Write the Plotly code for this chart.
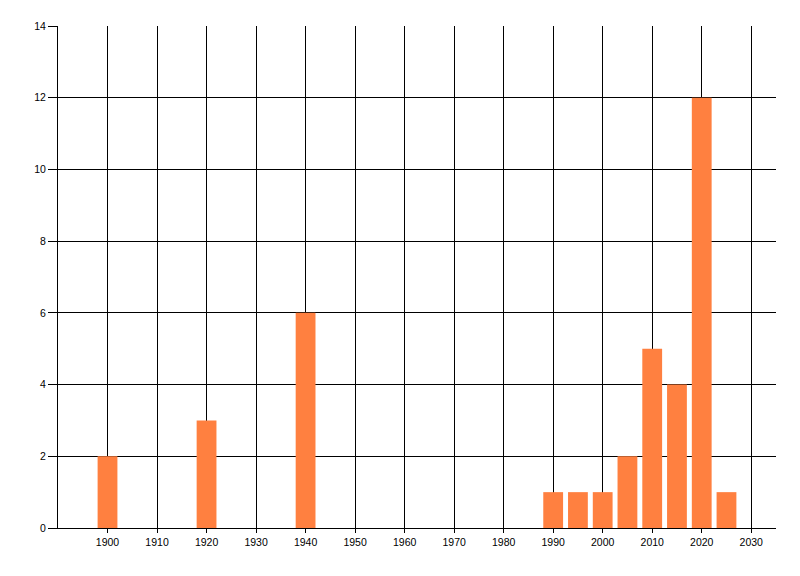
import plotly.graph_objects as go

# bar positions (year) and counts
years = [1900, 1920, 1940, 1990, 1995, 2000, 2005, 2010, 2015, 2020, 2025]
counts = [2, 3, 6, 1, 1, 1, 2, 5, 4, 12, 1]

x_ticks = list(range(1900, 2031, 10))
y_ticks = list(range(0, 15, 2))

fig = go.Figure(go.Bar(
    x=years, y=counts,
    width=4,
    marker=dict(color="rgb(255,128,64)", line=dict(width=0)),
))

axis_common = dict(
    showgrid=True, gridcolor="black", gridwidth=1,
    showline=True, linecolor="black", linewidth=1,
    ticks="outside", tickcolor="black",
    zeroline=False,
    tickfont=dict(family="Liberation Sans", size=10.5, color="black"),
)

# page body adds an 8px offset, so margins are shifted to compensate
fig.update_layout(
    width=800, height=576,
    margin=dict(l=50, r=32, t=18, b=56),
    paper_bgcolor="white", plot_bgcolor="white",
    showlegend=False,
    xaxis=dict(range=[1890, 2035], tickvals=x_ticks, ticklen=4, **axis_common),
    yaxis=dict(range=[0, 14], tickvals=y_ticks, ticklen=9, **axis_common),
)

fig.write_html("out.html")
